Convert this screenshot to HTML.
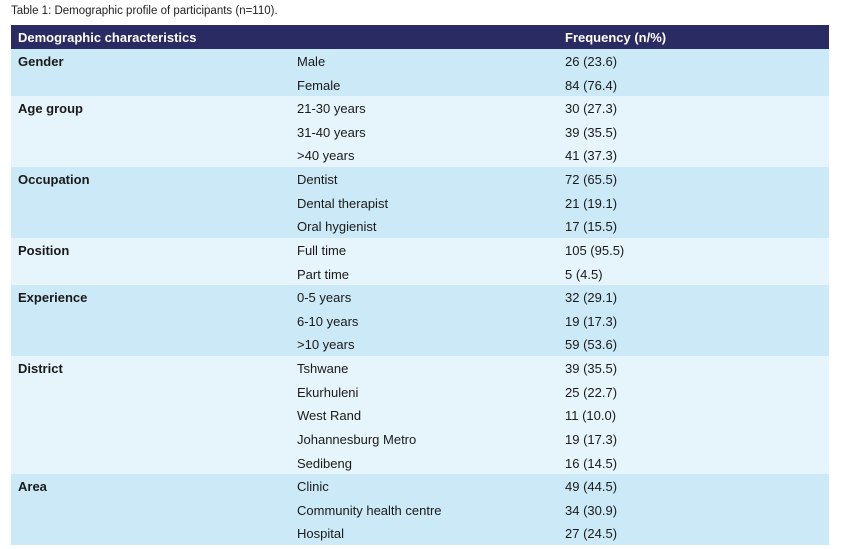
<!DOCTYPE html>
<html><head><style>
body{margin:0;width:842px;height:549px;background:#fff;font-family:"Liberation Sans",Arial,sans-serif;color:#1a1a1a;position:relative;overflow:hidden}
.cap{position:absolute;left:11px;top:5px;font-size:11.5px;color:#222}
.hdr{position:absolute;left:11px;top:25px;width:818px;height:24px;background:#2b2b63;color:#fff;font-weight:bold;font-size:13px}
.hdr span{position:absolute;top:5px}
.band{position:absolute;left:11px;width:818px}
.d{background:#cbe9f7}.l{background:#e6f4fb}
.t{position:absolute;font-size:13px;white-space:nowrap}
.b{font-weight:bold}
</style></head><body>
<div class="cap">Table 1: Demographic profile of participants (n=110).</div>
<div class="hdr"><span style="left:7px">Demographic characteristics</span><span style="left:554px">Frequency (n/%)</span></div>
<div class="band d" style="top:49px;height:47px"></div>
<div class="band l" style="top:96px;height:71px"></div>
<div class="band d" style="top:167px;height:71px"></div>
<div class="band l" style="top:238px;height:47px"></div>
<div class="band d" style="top:285px;height:71px"></div>
<div class="band l" style="top:356px;height:118px"></div>
<div class="band d" style="top:474px;height:71px"></div>
<div id="rows"></div>
<script>
var rows=[["Gender","Male","26 (23.6)"],["","Female","84 (76.4)"],["Age group","21-30 years","30 (27.3)"],["","31-40 years","39 (35.5)"],["",">40 years","41 (37.3)"],["Occupation","Dentist","72 (65.5)"],["","Dental therapist","21 (19.1)"],["","Oral hygienist","17 (15.5)"],["Position","Full time","105 (95.5)"],["","Part time","5 (4.5)"],["Experience","0-5 years","32 (29.1)"],["","6-10 years","19 (17.3)"],["",">10 years","59 (53.6)"],["District","Tshwane","39 (35.5)"],["","Ekurhuleni","25 (22.7)"],["","West Rand","11 (10.0)"],["","Johannesburg Metro","19 (17.3)"],["","Sedibeng","16 (14.5)"],["Area","Clinic","49 (44.5)"],["","Community health centre","34 (30.9)"],["","Hospital","27 (24.5)"]];
var h="";
rows.forEach(function(r,i){var y=49+i*23.62+5;
if(r[0])h+='<div class="t b" style="left:18px;top:'+y+'px">'+r[0]+'</div>';
h+='<div class="t" style="left:297px;top:'+y+'px">'+r[1].replace('>','&gt;')+'</div>';
h+='<div class="t" style="left:565px;top:'+y+'px">'+r[2]+'</div>';});
document.getElementById('rows').innerHTML=h;
</script>
</body></html>
